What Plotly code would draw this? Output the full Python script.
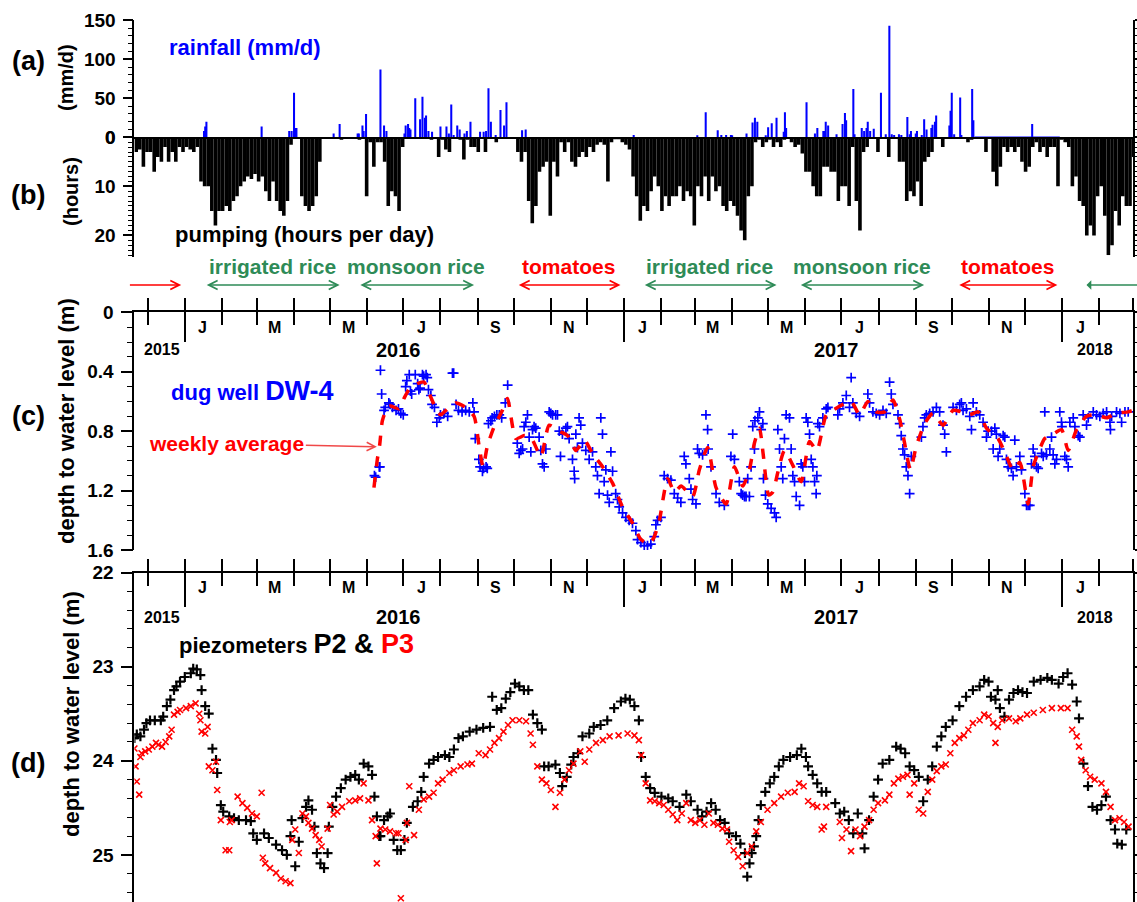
import pandas as pd
import plotly.graph_objects as go

W, H = 1137, 902
START = pd.Timestamp("2015-11-20")          # day 0 of every day-offset list below
X_RANGE = [pd.Timestamp("2015-11-20"), pd.Timestamp("2018-03-01")]

# ---------------- (a) rainfall: (day offset, mm/d) ----------------
RAIN_EVENTS = [
    (58, 8), (59, 14), (60, 20), (106, 14), (129, 8), (131, 8), (133, 57), (134, 12), (135, 12),
    (166, 5), (171, 17), (186, 5), (187, 5), (190, 15), (191, 8), (193, 30), (205, 87), (208, 15),
    (210, 8), (225, 5), (226, 15), (228, 17), (229, 12), (230, 10), (234, 50), (238, 23), (240, 52),
    (242, 25), (243, 28), (245, 8), (248, 7), (255, 14), (260, 14), (262, 5), (264, 42), (266, 3),
    (269, 15), (271, 10), (275, 5), (277, 8), (280, 20), (288, 7), (291, 7), (293, 8), (295, 63),
    (297, 20), (301, 3), (305, 35), (308, 15), (310, 45), (323, 9), (326, 10), (416, 3), (469, 2),
    (476, 32), (486, 9), (489, 3), (493, 3), (497, 3), (498, 2), (510, 5), (515, 19), (517, 25),
    (519, 20), (526, 2), (528, 13), (531, 18), (535, 25), (541, 7), (542, 32), (543, 12), (560, 45),
    (567, 5), (569, 12), (574, 8), (575, 8), (576, 20), (578, 15), (585, 4), (590, 17), (592, 31),
    (593, 22), (599, 62), (600, 4), (606, 12), (608, 8), (610, 12), (611, 20), (613, 8), (616, 11),
    (622, 57), (626, 4), (629, 143), (631, 4), (633, 3), (637, 4), (639, 3), (644, 26), (646, 4),
    (647, 8), (651, 5), (652, 8), (656, 3), (658, 23), (660, 10), (664, 12), (665, 16), (667, 20),
    (668, 28), (679, 15), (680, 34), (681, 57), (683, 4), (688, 51), (689, 3), (698, 62), (699, 22),
    (748, 17),
]
RAIN_DAY = [d for d, _ in RAIN_EVENTS]
RAIN_MM = [v for _, v in RAIN_EVENTS]
RAIN_NIL_DAY = [700, 771]       # period recorded with zero rainfall
RAIN_NIL_MM = [0, 0]

# ---------------- (b) pumping hours, 3-day bins from day 0 ----------------
PUMP_BIN_DAYS = 3
PUMP_HOURS = [
    3, 2.5, 6, 3, 3, 7, 4, 5, 2, 5,
    3, 5, 2, 3, 2, 2.5, 3, 2, 9, 10,
    10, 15, 18, 15, 15, 14, 15, 13, 12, 10,
    9, 8, 8.5, 7.5, 9, 8, 11, 13, 9, 13,
    15, 16, 13, 1.5, 0, 0, 12, 14, 15, 14,
    12, 5, 0, 0, 0, 0, 0, 0.5, 0, 0,
    0, 0, 0.5, 0, 12, 1, 6, 1, 1, 5,
    14, 11, 12, 15, 2, 0, 0, 0, 0, 0,
    0, 0, 0.5, 0, 4, 0.5, 2.5, 3, 0, 0,
    0.5, 4.5, 0.5, 2, 2, 3, 0, 3, 0, 0,
    1, 0, 0, 0, 0, 0, 3, 5, 3, 13,
    17.5, 14, 7, 6, 5, 16, 5, 8, 1, 3,
    1, 5, 6, 4, 3, 4, 2, 3, 1.5, 1,
    1.5, 9, 1, 0.3, 0.3, 1, 1.5, 2.5, 8, 12,
    17, 14, 15, 11, 8, 10, 15, 12, 14, 12,
    12, 10, 13, 11, 12, 18, 10, 12, 8, 13,
    8, 11, 10, 14, 15, 13, 14, 16, 19, 21,
    12, 10, 1, 0.5, 2, 1, 0.5, 2, 1, 2,
    0.5, 0, 1, 2, 1.5, 3.3, 7, 7, 10, 12,
    12, 6, 6, 7, 7, 13, 10, 10, 14, 2,
    13, 19, 3, 2, 0, 0, 3, 0, 0, 4,
    0, 0, 5, 5, 13, 11, 12, 9, 14, 5,
    4, 3, 0, 0, 2, 0, 0, 0, 0, 0,
    0, 1, 0.5, 0, 0, 0, 3, 0, 7, 10,
    6, 2, 3, 2, 3, 2, 5, 7, 6, 2,
    1, 3, 2, 4, 2, 2, 10, 0.5, 1, 2,
    10, 8, 13, 14, 20, 18, 20, 12, 10, 16,
    24, 22, 15, 18, 12, 14, 14, 4,
]

# ---------------- (c) dug well DW-4: (day offset, depth m) ----------------
DW4_POINTS = [
    (200, 1.10), (201, 1.11), (204, 1.04), (204.5, 1.04), (205, 0.39), (206, 0.55), (208, 0.66),
    (209, 0.64), (212, 0.61), (213, 0.62), (215, 0.64), (218, 0.66), (220, 0.65), (222, 0.68),
    (224, 0.69), (226, 0.50), (227, 0.46), (229, 0.42), (230, 0.53), (231, 0.55), (234, 0.42),
    (236, 0.48), (237, 0.52), (238, 0.51), (240, 0.42), (241, 0.43), (243, 0.42), (244, 0.44),
    (245, 0.52), (247, 0.56), (248, 0.62), (250, 0.64), (252, 0.74), (254, 0.71), (255, 0.69),
    (258, 0.68), (261, 0.70), (265, 0.41), (266, 0.41), (268, 0.62), (270, 0.66), (273, 0.67),
    (276, 0.66), (279, 0.67), (282, 0.61), (283, 0.67), (284, 0.85), (287, 0.99), (288, 1.04),
    (290, 1.07), (291, 1.05), (293, 1.04), (294, 1.05), (295, 0.75), (297, 0.73), (298, 0.71),
    (300, 0.70), (302, 0.69), (304, 0.69), (306, 0.71), (309, 0.61), (311, 0.49), (319, 0.88),
    (320.6, 0.95), (322, 0.93), (323.4, 0.92), (324.7, 0.77), (326.1, 0.74), (327.5, 0.69),
    (328.9, 0.84), (330.3, 0.94), (331.7, 0.79), (333, 0.77), (334.4, 0.78), (337.2, 0.84),
    (338.6, 0.93), (340, 1.02), (341.4, 1.04), (342.8, 0.92), (345.6, 0.67), (347, 0.68),
    (348.4, 0.69), (351, 0.69), (352.5, 0.69), (354, 0.80), (355, 0.97), (356.6, 0.82),
    (359.5, 0.78), (360.8, 0.77), (362.2, 0.85), (365, 0.99), (366.4, 1.07), (366.8, 1.12),
    (367.8, 0.82), (369.1, 0.91), (370.5, 0.71), (371.9, 0.76), (373.3, 0.88), (376.1, 0.93),
    (378.9, 0.99), (381.7, 0.94), (384.4, 1.04), (385.8, 1.10), (387.2, 1.22), (388.6, 0.71),
    (390, 0.82), (391.4, 1.14), (392.8, 1.06), (394.2, 1.23), (395.6, 1.28), (397, 0.94),
    (398.4, 1.07), (401, 1.22), (402.5, 1.26), (403.9, 1.31), (406.7, 1.35), (409.5, 1.38),
    (412.2, 1.40), (415, 1.42), (417.8, 1.47), (419.2, 1.53), (422, 1.55), (424.8, 1.57),
    (427.5, 1.57), (430.3, 1.56), (433.1, 1.51), (434.5, 1.43), (435.9, 1.40), (438.7, 1.38),
    (441.4, 1.10), (444.2, 1.12), (447, 1.13), (449.8, 1.22), (452.6, 1.25), (455.3, 1.28),
    (458.1, 0.97), (459.5, 1.02), (462.3, 1.12), (463.7, 1.19), (465.1, 1.26), (467.9, 1.29),
    (469.2, 0.92), (470.6, 0.95), (473.4, 0.96), (476.2, 0.69), (477.6, 0.79), (478, 0.92),
    (480.4, 1.04), (484.6, 1.22), (487.3, 1.28), (491.5, 1.30), (497, 0.97), (498.5, 0.82),
    (499.9, 0.99), (504, 1.14), (506.8, 1.23), (509.6, 1.24), (505.5, 1.22), (508.3, 1.24),
    (512.4, 1.24), (511, 1.12), (513.8, 1.04), (516.6, 0.92), (515.2, 0.77), (517, 0.73),
    (519.4, 0.71), (520.8, 0.67), (522.2, 0.79), (523.6, 0.75), (524.1, 1.12), (525.8, 1.23),
    (527.7, 1.29), (530.5, 1.32), (533.3, 1.35), (534.7, 1.38), (536.1, 0.79), (537.5, 0.92),
    (538.9, 1.04), (540.2, 1.12), (541.6, 0.85), (543, 0.69), (545.8, 0.71), (547.2, 0.92),
    (548.6, 1.10), (550, 1.14), (551.4, 1.24), (554.2, 1.30), (555.5, 1.02), (556.9, 1.04),
    (558.3, 1.14), (559.7, 0.71), (561.1, 0.74), (562.5, 0.82), (563.9, 0.99), (565.3, 1.04),
    (566.7, 1.14), (568, 1.22), (568.6, 1.10), (569.4, 0.75), (570.8, 0.77), (573.6, 0.71),
    (576.4, 0.65), (577.8, 0.64), (586.1, 0.69), (587.5, 0.65), (590.3, 0.61), (593.1, 0.56),
    (595.8, 0.64), (597.2, 0.44), (598.6, 0.61), (601.4, 0.68), (604.2, 0.70), (611.1, 0.55),
    (612.5, 0.61), (615.3, 0.67), (618.1, 0.68), (620.9, 0.69), (623.7, 0.66), (626.4, 0.68),
    (629.2, 0.47), (630.6, 0.55), (632, 0.62), (636.2, 0.69), (637.6, 0.75), (638.9, 0.83),
    (640.3, 0.92), (641.7, 0.96), (643.1, 1.04), (644.5, 1.10), (645.9, 1.22), (647.3, 0.97),
    (655.7, 0.84), (657, 0.77), (658.4, 0.71), (659.8, 0.69), (662.6, 0.68), (665.4, 0.67),
    (668.2, 0.64), (670.9, 0.67), (673.7, 0.76), (675.1, 0.82), (676.5, 0.94), (682.1, 0.64),
    (684.9, 0.66), (687.6, 0.62), (689, 0.61), (690.4, 0.66), (693.2, 0.65), (696, 0.70),
    (697.4, 0.79), (698.8, 0.61), (701.5, 0.67), (704.3, 0.69), (707.1, 0.74), (709.9, 0.84),
    (711.3, 0.80), (714.1, 0.80), (715.5, 0.92), (716.9, 0.78), (718.2, 0.82), (719.6, 0.97),
    (721, 0.92), (723.8, 0.83), (725.2, 0.84), (726.6, 0.99), (728, 1.04), (730.7, 1.05),
    (732.1, 1.10), (733.5, 0.86), (734.9, 1.04), (737.7, 0.97), (739.1, 1.06), (741.9, 1.22),
    (743.3, 1.30), (744.6, 1.30), (746, 1.30), (747.4, 1.02), (748.8, 0.92), (750.2, 0.97),
    (751.6, 1.04), (753, 1.05), (755.8, 0.95), (757.2, 0.97), (758.5, 0.67), (759.9, 0.96),
    (762.7, 0.92), (764.1, 0.84), (765.5, 0.96), (766.9, 1.02), (768.3, 0.99), (771, 0.67),
    (772.4, 0.74), (772.8, 0.77), (775.2, 0.97), (776.6, 0.99), (778, 1.04), (779.4, 0.74),
    (782.2, 0.71), (783.6, 0.77), (786.3, 0.83), (787.7, 0.84), (790.5, 0.69), (793.3, 0.76),
    (794.7, 0.71), (798.9, 0.67), (801.6, 0.69), (804.4, 0.70), (807.2, 0.68), (810, 0.67),
    (812.8, 0.74), (813.2, 0.79), (814.2, 0.70), (818.3, 0.67), (821.1, 0.68), (822.5, 0.74),
    (825.3, 0.67), (828, 0.67),
]
DW4_DAY = [d for d, _ in DW4_POINTS]
DW4_DEPTH = [v for _, v in DW4_POINTS]

WEEKLY_POINTS = [
    (199.6, 1.18), (202.4, 0.99), (204.4, 0.89), (206.6, 0.73), (210.7, 0.64), (213.5, 0.63),
    (220.5, 0.65), (224.6, 0.58), (228.8, 0.52), (235.8, 0.48), (241.3, 0.47), (246.9, 0.57),
    (252.4, 0.67), (255.3, 0.69), (260.8, 0.65), (267.8, 0.61), (276.1, 0.64), (283, 0.70),
    (287.2, 0.90), (290.5, 1.04), (294.1, 0.90), (299.7, 0.77), (306.6, 0.66), (310.8, 0.58),
    (317.8, 0.85), (324.7, 0.83), (330.3, 0.84), (338.7, 0.97), (345.6, 0.76), (353.9, 0.80),
    (360.9, 0.83), (367.9, 0.93), (374.8, 0.86), (381.7, 0.95), (390.1, 1.04), (398.4, 1.15),
    (406.7, 1.31), (415.1, 1.42), (422.1, 1.53), (429, 1.56), (433.2, 1.51), (437.4, 1.40),
    (444.3, 1.12), (449.9, 1.21), (455.5, 1.17), (465.1, 1.24), (470.7, 1.06), (477.6, 0.91),
    (484.6, 1.18), (493, 1.29), (499.9, 1.04), (506.8, 1.17), (512.4, 1.06), (516.6, 0.88),
    (520.8, 0.78), (524.1, 0.97), (528.5, 1.23), (531.9, 1.21), (536, 1.08), (541.6, 0.93),
    (548.6, 1.03), (555.6, 1.14), (562.5, 0.87), (568.6, 0.93), (576.4, 0.69), (581.9, 0.66),
    (590.3, 0.62), (597.3, 0.60), (604.2, 0.69), (611.1, 0.60), (618.1, 0.67), (625.1, 0.67),
    (632, 0.59), (637.6, 0.72), (641.7, 0.88), (646.5, 1.06), (651.5, 0.90), (658.4, 0.75),
    (665.3, 0.68), (673.7, 0.76), (682, 0.66), (689, 0.67), (696, 0.69), (702.9, 0.67),
    (709.9, 0.78), (719.6, 0.85), (726.6, 0.97), (732.1, 1.06), (737.7, 1.01), (744.6, 1.29),
    (748.8, 1.04), (754.3, 0.92), (758.5, 0.85), (765.4, 0.82), (772.5, 0.79), (778, 0.93),
    (785, 0.79), (793.3, 0.70), (801.6, 0.69), (810, 0.71), (818.3, 0.68), (828, 0.67), (832, 0.66),
]
WEEKLY_DAY = [d for d, _ in WEEKLY_POINTS]
WEEKLY_DEPTH = [v for _, v in WEEKLY_POINTS]

# ---------------- (d) piezometers: (day offset, depth m) ----------------
P2_POINTS = [
    (0, 23.76), (2, 23.72), (5, 23.74), (8, 23.67), (10, 23.60), (13, 23.57), (17, 23.57),
    (22, 23.57), (24, 23.53), (27, 23.42), (30, 23.35), (33, 23.25), (35, 23.21), (38, 23.16),
    (42, 23.11), (47, 23.07), (49, 23.02), (52, 23.03), (55, 23.09), (56, 23.25), (59, 23.42),
    (62, 23.50), (65, 23.87), (68, 23.99), (69, 24.13), (72, 24.47), (74, 24.54), (79, 24.59),
    (83, 24.61), (87, 24.63), (93, 24.63), (97, 24.64), (99, 24.77), (102, 24.84), (108, 24.77),
    (112, 24.82), (118, 24.89), (123, 24.95), (127, 25.00), (130, 24.80), (131, 24.63),
    (134, 25.12), (137, 24.86), (140, 24.61), (143, 24.49), (145, 24.42), (148, 24.52),
    (150, 24.70), (152, 24.98), (155, 25.09), (158, 25.14), (161, 24.98), (162, 24.70),
    (165, 24.49), (168, 24.38), (172, 24.29), (176, 24.20), (180, 24.17), (184, 24.15),
    (187, 24.20), (191, 24.03), (195, 24.06), (198, 24.15), (200, 24.38), (202, 24.59),
    (204, 24.80), (205, 24.80), (208, 24.63), (211, 24.59), (213, 24.56), (216, 24.84),
    (219, 24.95), (222, 24.95), (225, 24.84), (227, 24.66), (232, 24.49), (236, 24.43),
    (239, 24.33), (241, 24.17),
    (245.5, 24.03), (249.3, 23.99), (253, 23.96), (258.7, 23.94), (262.4, 23.96), (266.2, 23.88),
    (270, 23.76), (273.7, 23.74), (279.3, 23.69), (285, 23.67), (290.6, 23.65), (296.3, 23.64),
    (298.1, 23.32), (301.9, 23.46), (305.7, 23.44), (309.4, 23.34), (313.2, 23.27), (317, 23.18),
    (320.7, 23.21), (324.5, 23.25), (328.2, 23.25), (332, 23.51), (335.7, 23.60), (339.5, 23.67),
    (341.4, 24.06), (345.1, 24.06), (350.8, 24.04), (354.5, 24.13), (356.4, 24.27), (360.2, 24.17),
    (363.9, 24.04), (365.8, 23.96), (369.6, 23.92), (373.3, 23.74), (379, 23.71), (382.7, 23.64),
    (388.4, 23.62), (394, 23.57), (399.7, 23.44), (405.3, 23.37), (409.1, 23.34), (412.8, 23.35),
    (416.6, 23.42), (420.3, 23.57), (422.2, 23.96), (426, 24.17), (429.7, 24.29), (433.5, 24.34),
    (439.1, 24.38), (444.8, 24.40), (448.5, 24.43), (454.2, 24.49), (459.8, 24.36), (463.6, 24.43),
    (469.2, 24.52), (473, 24.59), (476.7, 24.54), (480.5, 24.45), (484.3, 24.52), (488, 24.63),
    (491.8, 24.66), (495.5, 24.77), (501.2, 24.80), (504.9, 24.88), (508.7, 24.98), (510.6, 25.23),
    (512.5, 25.09), (514.3, 24.98), (516.2, 24.91), (518.1, 24.80), (520, 24.63), (521.9, 24.47),
    (525.6, 24.33), (529.4, 24.24), (533.1, 24.17), (536.9, 24.06), (540.7, 23.99), (546.3, 23.96),
    (551.9, 23.94), (555.7, 23.87), (559.5, 23.96), (561.3, 24.06), (565.1, 24.15), (568.9, 24.24),
    (572.6, 24.33), (576.4, 24.33), (583.9, 24.45), (587.7, 24.56), (591.4, 24.54), (595.2, 24.63),
    (598.9, 24.77), (602.7, 24.56), (606.5, 24.77), (608.3, 24.93), (612.1, 24.63), (615.9, 24.38),
    (619.6, 24.20), (623.4, 24.03), (629, 23.99), (634.7, 23.85), (638.4, 23.87), (642.2, 23.92),
    (645.9, 24.06), (649.7, 24.10), (653.5, 24.17), (657.2, 24.43), (661, 24.20), (664.7, 24.06),
    (668.5, 23.85), (672.3, 23.74), (676, 23.64), (681.7, 23.57), (687.3, 23.42), (692.9, 23.32),
    (698.6, 23.25), (704.2, 23.21), (708, 23.14), (711.7, 23.16), (713.6, 23.32), (717.4, 23.35),
    (719.3, 23.25), (721.1, 23.44), (724.9, 23.53), (728.7, 23.35), (732.4, 23.28), (736.2, 23.25),
    (739.9, 23.27), (743.7, 23.28), (749.3, 23.16), (755, 23.14), (760.6, 23.12), (764.4, 23.14),
    (770, 23.18), (773.8, 23.11), (777.5, 23.07), (781.3, 23.19), (785.1, 23.37), (787, 23.55),
    (790.7, 24.03), (794.5, 24.27), (798.2, 24.49), (802, 24.52), (805.7, 24.47), (809.5, 24.38),
    (813.3, 24.63), (817, 24.73), (818.9, 24.88), (822.7, 24.89), (826.4, 24.73),
]
P2_DAY = [d for d, _ in P2_POINTS]
P2_DEPTH = [v for _, v in P2_POINTS]

P3_POINTS = [
    (0, 23.87), (1, 24.06), (2, 24.22), (4, 24.36), (5, 23.96), (6, 23.92), (9, 23.90), (12, 23.88),
    (15, 23.85), (18, 23.81), (20, 23.83), (23, 23.85), (26, 23.80), (29, 23.74), (31, 23.67),
    (33, 23.51), (36, 23.48), (38, 23.46), (43, 23.44), (47, 23.42), (51, 23.39), (54, 23.50),
    (55, 23.57), (56, 23.69), (59, 23.71), (61, 23.64), (62, 24.06), (65, 24.10), (68, 24.01),
    (69, 24.31), (72, 24.63), (76, 24.95), (79, 24.95), (79.5, 24.65), (81, 24.63), (86, 24.38),
    (90, 24.45), (94, 24.50), (98, 24.56), (102, 24.59), (106, 24.34), (107, 25.03), (109, 25.09),
    (113, 25.14), (118, 25.19), (122, 25.25), (126, 25.28), (130, 25.30), (131.5, 24.84),
    (134, 24.73), (137, 24.98), (140, 24.56), (143, 24.59), (145, 24.66), (148, 24.72),
    (151, 24.79), (154, 24.84), (156, 24.91), (161, 24.72), (163, 24.47), (166, 24.57),
    (169, 24.54), (173, 24.49), (179, 24.43), (184, 24.42), (188, 24.40), (191, 24.24),
    (195, 24.42), (198, 24.63), (201, 24.80), (202, 25.09), (205, 24.72), (209, 24.73),
    (213, 24.75), (218, 24.77), (220, 24.77), (222, 25.46), (226, 24.84), (227, 24.66),
    (229, 24.27), (233, 24.79), (237, 24.52), (241, 24.41),
    (245.5, 24.38), (249.3, 24.34), (253, 24.24), (256.8, 24.20), (262.4, 24.13), (266.2, 24.10),
    (271.8, 24.06), (277.5, 24.04), (281.2, 24.03), (286.9, 23.92), (292.5, 23.94), (296.3, 23.88),
    (300, 23.81), (303.8, 23.76), (307.5, 23.69), (311.3, 23.62), (315.1, 23.57), (320.7, 23.57),
    (326.3, 23.58), (330.1, 23.71), (332, 23.83), (335.7, 24.06), (339.5, 24.20), (343.3, 24.24),
    (347, 24.31), (350.8, 24.49), (354.5, 24.34), (358.3, 24.20), (362.1, 24.10), (365.8, 24.03),
    (371.5, 23.90), (375.2, 24.01), (379, 23.88), (384.6, 23.81), (390.3, 23.78), (395.9, 23.74),
    (403.4, 23.73), (410.9, 23.71), (416.6, 23.73), (420.3, 23.78), (422.2, 23.94), (426, 24.24),
    (429.7, 24.42), (433.5, 24.43), (437.3, 24.45), (441, 24.47), (444.8, 24.52), (448.5, 24.57),
    (452.3, 24.63), (456.1, 24.56), (459.8, 24.45), (463.6, 24.63), (467.3, 24.66), (471.1, 24.63),
    (474.9, 24.68), (478.6, 24.56), (482.4, 24.66), (486.1, 24.68), (489.9, 24.72), (493.7, 24.73),
    (495.5, 24.86), (499.3, 24.95), (503, 25.02), (506.8, 25.12), (510.6, 24.98), (514.3, 24.91),
    (518.1, 24.75), (521.9, 24.65), (527.5, 24.52), (533.1, 24.45), (538.8, 24.38), (544.4, 24.34),
    (550.1, 24.33), (553.8, 24.24), (557.6, 24.27), (561.3, 24.43), (565.1, 24.47), (568.9, 24.49),
    (572.6, 24.73), (574.5, 24.70), (576.4, 24.49), (587.7, 24.65), (589.5, 24.82), (593.3, 24.73),
    (597.1, 24.96), (600.8, 24.73), (604.6, 24.80), (608.3, 24.70), (612.1, 24.63), (615.9, 24.52),
    (619.6, 24.45), (625.3, 24.42), (629, 24.36), (632.8, 24.24), (636.5, 24.19), (640.3, 24.17),
    (644.1, 24.15), (645.9, 24.36), (649.7, 24.24), (653.5, 24.52), (657.2, 24.56), (661, 24.33),
    (664.7, 24.20), (668.5, 24.11), (672.3, 24.06), (676, 24.04), (679.8, 23.92), (683.5, 23.81),
    (687.3, 23.76), (691.1, 23.73), (694.8, 23.67), (698.6, 23.60), (704.2, 23.57), (708, 23.51),
    (711.7, 23.53), (715.5, 23.60), (717.4, 23.81), (719.3, 23.64), (723, 23.57), (728.7, 23.55),
    (734.3, 23.58), (738.1, 23.55), (743.7, 23.51), (749.3, 23.49), (756.9, 23.46), (764.4, 23.44),
    (771.9, 23.44), (777.5, 23.44), (781.3, 23.67), (785.1, 23.74), (787, 23.85), (788.8, 23.99),
    (792.6, 24.10), (796.3, 24.17), (800.1, 24.20), (805.7, 24.24), (809.5, 24.33), (813.3, 24.49),
    (817, 24.63), (820.8, 24.61), (824.6, 24.65), (828.3, 24.70),
]
P3_DAY = [d for d, _ in P3_POINTS]
P3_DEPTH = [v for _, v in P3_POINTS]

# ---------------- crop calendar ----------------
CROP_NAMES = ["tomatoes", "irrigated rice", "monsoon rice", "tomatoes",
              "irrigated rice", "monsoon rice", "tomatoes", "irrigated rice"]
CROP_START = ["2015-11-15", "2016-01-18", "2016-05-25", "2016-10-04",
              "2017-01-17", "2017-05-27", "2017-10-06", "2018-01-20"]
CROP_END = ["2015-12-29", "2016-05-09", "2016-08-29", "2016-12-29",
            "2017-05-08", "2017-09-08", "2017-12-28", "2018-03-05"]

MONTH_LETTERS = {1: "J", 3: "M", 5: "M", 7: "J", 9: "S", 11: "N"}
YEAR_TEXT = ["2015", "2016", "2017", "2018"]
YEAR_POS = ["2015-12-13", "2016-06-27", "2017-06-27", "2018-01-28"]
YEAR_BIG = [False, True, True, False]

# ================= styling / layout =================
FONT = "Arial, Liberation Sans, sans-serif"
GREEN = "#2e8b57"
RED = "#ff0000"
BLUE = "#0000ff"
CROP_COLOR = {"tomatoes": RED, "irrigated rice": GREEN, "monsoon rice": GREEN}


def days(lst):
    return START + pd.to_timedelta(lst, unit="D")


def py(p):  # pixel row -> paper fraction
    return 1 - p / H


def px(p):
    return p / W


XD = [px(134.4), px(1133)]
fig = go.Figure()

# (a) rainfall
fig.add_trace(go.Bar(x=days(RAIN_DAY), y=RAIN_MM, width=1.7 * 86400000,
                     marker=dict(color=BLUE, line=dict(width=0)), xaxis="x", yaxis="y"))
fig.add_trace(go.Scatter(x=days(RAIN_NIL_DAY), y=RAIN_NIL_MM, mode="lines",
                         line=dict(color=BLUE, width=1.6), cliponaxis=False, xaxis="x", yaxis="y"))
# (b) pumping
pump_x = days([PUMP_BIN_DAYS * (k + 0.5) for k in range(len(PUMP_HOURS))])
fig.add_trace(go.Bar(x=pump_x, y=PUMP_HOURS, width=PUMP_BIN_DAYS * 86400000,
                     marker=dict(color="black", line=dict(width=0)), xaxis="x", yaxis="y2"))
# (c) dug well
fig.add_trace(go.Scatter(x=days(DW4_DAY), y=DW4_DEPTH, mode="markers",
                         marker=dict(symbol="cross-thin", size=7, line=dict(width=1.7, color=BLUE)),
                         xaxis="x3", yaxis="y3"))
fig.add_trace(go.Scatter(x=days(WEEKLY_DAY), y=WEEKLY_DEPTH, mode="lines",
                         line=dict(color=RED, width=3.5, dash="dash", shape="spline", smoothing=0.6),
                         xaxis="x3", yaxis="y3"))
# (d) piezometers
fig.add_trace(go.Scatter(x=days(P2_DAY), y=P2_DEPTH, mode="markers",
                         marker=dict(symbol="cross-thin", size=7, line=dict(width=2.2, color="black")),
                         xaxis="x4", yaxis="y4"))
fig.add_trace(go.Scatter(x=days(P3_DAY), y=P3_DEPTH, mode="markers",
                         marker=dict(symbol="x-thin", size=6, line=dict(width=1.6, color=RED)),
                         xaxis="x4", yaxis="y4"))
# dummy traces so overlay tick axes render
for xa, ya in [("x5", "y3"), ("x6", "y3"), ("x7", "y4"), ("x8", "y4")]:
    fig.add_trace(go.Scatter(x=[X_RANGE[0]], y=[None], mode="markers", xaxis=xa, yaxis=ya,
                             hoverinfo="skip"))

TICKFONT = dict(family=FONT, size=19, color="black", weight="bold")
month_ticks = list(pd.date_range("2015-12-01", "2018-03-01", freq="MS"))
year_ticks = [pd.Timestamp(f"{y}-01-01") for y in (2016, 2017, 2018)]

base_x = dict(range=X_RANGE, showgrid=False, zeroline=False, automargin=False,
              linecolor="black", tickcolor="black")
base_y = dict(showgrid=False, zeroline=False, automargin=False, showline=True, linecolor="black",
              linewidth=1.8, ticks="outside", tickwidth=1.8, tickcolor="black",
              mirror="ticks", tickfont=TICKFONT, ticklabelstandoff=3)


def top_axes(anchor, down_long):
    main = dict(base_x, domain=XD, anchor=anchor, side="top", showline=True, linewidth=1.8,
                ticks="outside", ticklen=12, tickwidth=2, tickvals=month_ticks,
                showticklabels=False)
    inner = dict(base_x, anchor=anchor, side="top", showline=False,
                 ticks="inside", ticklen=13, tickwidth=2, tickvals=month_ticks,
                 showticklabels=False)
    longt = dict(base_x, anchor=anchor, side="top", showline=False, ticks="inside",
                 ticklen=down_long, tickwidth=2, tickvals=year_ticks, showticklabels=False)
    return main, inner, longt


x3, x5, x6 = top_axes("y3", 30)
x4, x7, x8 = top_axes("y4", 34)
x5["overlaying"] = "x3"; x6["overlaying"] = "x3"
x7["overlaying"] = "x4"; x8["overlaying"] = "x4"

fig.update_layout(
    width=W, height=H, autosize=False, showlegend=False, barmode="overlay",
    margin=dict(l=0, r=0, t=0, b=0), paper_bgcolor="white", plot_bgcolor="white",
    font=dict(family=FONT, color="black"),
    xaxis=dict(base_x, domain=XD, anchor="y", showline=True, linewidth=1.8, ticks="",
               showticklabels=False),
    yaxis=dict(base_y, domain=[py(137.3), py(20.3)], anchor="x", range=[0, 150],
               tickmode="linear", tick0=0, dtick=50, ticklen=10,
               minor=dict(ticks="outside", ticklen=5, tickmode="linear", tick0=0, dtick=10,
                          tickcolor="black", tickwidth=1.2)),
    yaxis2=dict(base_y, domain=[py(257), py(137.3)], anchor="x", range=[24.4, 0],
                tickmode="linear", tick0=0, dtick=10, ticklen=10,
                minor=dict(ticks="outside", ticklen=5, tickmode="linear", tick0=0, dtick=1,
                           tickcolor="black", tickwidth=1.2)),
    xaxis3=x3, xaxis5=x5, xaxis6=x6,
    yaxis3=dict(base_y, domain=[py(550), py(312.3)], anchor="x3", range=[1.6, 0],
                tickmode="array", tickvals=[0, 0.4, 0.8, 1.2, 1.6],
                ticktext=["0", "0.4", "0.8", "1.2", "1.6"], ticklen=12,
                minor=dict(ticks="outside", ticklen=6, tickmode="linear", tick0=0, dtick=0.1,
                           tickcolor="black", tickwidth=1.2)),
    xaxis4=x4, xaxis7=x7, xaxis8=x8,
    yaxis4=dict(base_y, domain=[0, py(572.5)], anchor="x4", range=[25.5, 22],
                tickmode="linear", tick0=22, dtick=1, ticklen=12,
                minor=dict(ticks="outside", ticklen=6, tickmode="linear", tick0=22, dtick=0.2,
                           tickcolor="black", tickwidth=1.2)),
)


def note(text, x, y, size, color="black", angle=0, xref="paper", yref="paper", **kw):
    fig.add_annotation(text=f"<b>{text}</b>", x=x, y=y, xref=xref, yref=yref, showarrow=False,
                       textangle=angle, font=dict(family=FONT, size=size, color=color),
                       xanchor="center", yanchor="middle", **kw)


# panel letters and axis titles
for lab, yy in [("(a)", 61), ("(b)", 195), ("(c)", 416), ("(d)", 763)]:
    note(lab, px(28), py(yy), 27)
note("(mm/d)", px(66), py(78), 20, angle=-90)
note("(hours)", px(71), py(192), 20, angle=-90)
note("depth to water level (m)", px(66), py(421), 22, angle=-90)
note("depth to water level (m)", px(71), py(714), 22, angle=-90)

# in-panel labels
note("rainfall (mm/d)", px(245), py(47), 22, color=BLUE)
note("pumping (hours per day)", px(304), py(235), 22)
note("dug well <span style='font-size:27px'>DW-4</span>", px(252), py(391), 22, color=BLUE)
note("piezometers <span style='font-size:27px'>P2 &amp; </span>"
     f"<span style='font-size:27px;color:{RED}'>P3</span>", px(296), py(644), 22)

fig.add_annotation(text="<b>weekly average</b>", x=days([202])[0], y=0.905, xref="x3", yref="y3",
                   ax=-150, ay=-3, axref="pixel", ayref="pixel", showarrow=True, arrowhead=5,
                   arrowsize=1.1, arrowwidth=1.5, arrowcolor="#f04848",
                   font=dict(family=FONT, size=21, color=RED))

# crop calendar arrows and labels
for name, s, e in zip(CROP_NAMES, CROP_START, CROP_END):
    s_t, e_t = pd.Timestamp(s), pd.Timestamp(e)
    color = CROP_COLOR[name]
    if s_t < X_RANGE[0]:
        side = "end"
    elif e_t > X_RANGE[1]:
        side = "start"
    else:
        side = "end+start"
        note(name, s_t + (e_t - s_t) / 2, py(266), 21, color=color, xref="x")
    fig.add_annotation(text="", x=e_t, y=py(285), ax=s_t, ay=0, xref="x", yref="paper",
                       axref="x", ayref="pixel", showarrow=True, arrowhead=5, arrowside=side,
                       arrowsize=1.1, arrowwidth=1.6, arrowcolor=color, standoff=0,
                       startstandoff=0)

# month and year labels under the two top time axes
for xr, my, yy in [("x3", 327, 350), ("x4", 587, 617)]:
    for m in pd.date_range("2016-01-01", "2018-01-01", freq="MS"):
        if m.month in MONTH_LETTERS:
            note(MONTH_LETTERS[m.month], m + pd.Timedelta(days=15), py(my), 16, xref=xr)
    for txt, pos, big in zip(YEAR_TEXT, YEAR_POS, YEAR_BIG):
        note(txt, pd.Timestamp(pos), py(yy), 20 if big else 16, xref=xr)

fig.write_html("out.html", config={"displayModeBar": False},
               post_script="document.body.style.margin='0';"
                           "document.body.style.overflow='hidden';")
